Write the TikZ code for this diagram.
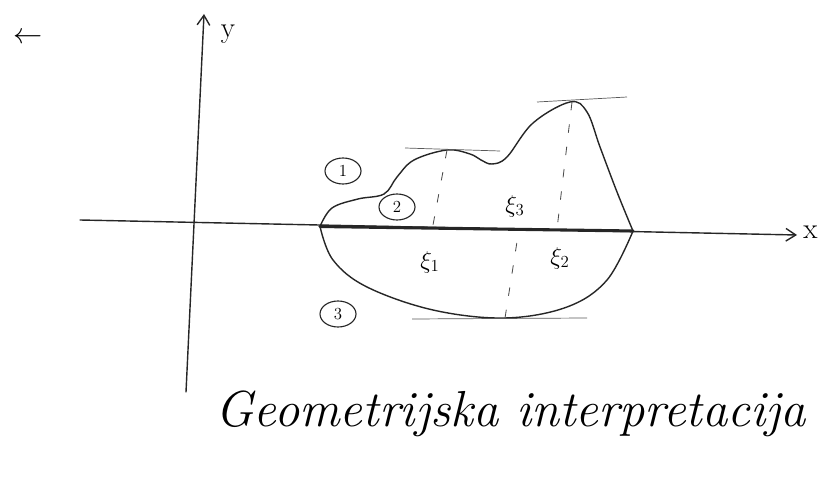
\documentclass[tikz,border=0pt]{standalone}
\usetikzlibrary{arrows.meta, shapes.geometric}

\begin{document}
\begin{tikzpicture}[x=0.25mm, y=-0.25mm, line width=1pt,
    pen/.style={black!85, line cap=round, line join=round},
    tangent/.style={black!65, line width=0.5pt},
    drop/.style={black!70, line width=0.6pt, dash pattern=on 6pt off 10pt},
    circnum/.style={ellipse, draw=black!85, line width=0.8pt, minimum width=9mm, minimum height=6.5mm, inner sep=0pt, font=\large},
    xilabel/.style={font=\LARGE}]
    \useasboundingbox (0,0) rectangle (824,484);
    % axes
    \coordinate (xstart) at (80,220);
    \coordinate (xend) at (797,235);
    \coordinate (ystart) at (186,392);
    \coordinate (yend) at (204,14);
    \draw[pen, -{Straight Barb[length=7pt, width=9pt]}] (xstart) -- (xend);
    \draw[pen, -{Straight Barb[length=7pt, width=9pt]}] (ystart) -- (yend);
    \node[font=\huge, anchor=west] (xlab) at (798,232) {x};
    \node[font=\huge] (ylab) at (228,34) {y};
    \node[font=\huge] (mark) at (28,38) {$\leftarrow$};
    % interval on the x axis
    \coordinate (left) at (320,226.5);
    \coordinate (right) at (633,231);
    \draw[pen, line width=2.2pt] (left) -- (right);
    % upper curve
    \draw[pen] plot[smooth, tension=0.6] coordinates {(left) (332,208) (358,199) (384,194) (397,177) (414,160) (447,150) (470,154) (481,160) (492,164) (507,157) (533,123) (570,102) (587,112) (600,147) (617,192) (right)};
    % lower curve
    \draw[pen] plot[smooth, tension=0.6] coordinates {(left) (333,260) (367,287) (433,310) (505,318) (567,307) (607,280) (right)};
    % tangents at extrema
    \coordinate (top1) at (447,150);
    \coordinate (top2) at (572,102);
    \coordinate (bottom) at (505,318);
    \draw[tangent] (405,148) -- (500,151);
    \draw[tangent] (537,102) -- (627,97);
    \draw[tangent] (412,319) -- (587,318);
    % drops to the axis
    \coordinate (foot1) at (433,225);
    \coordinate (foot2) at (557,229);
    \coordinate (foot3) at (519,229);
    \draw[drop] (top1) -- (foot1);
    \draw[drop] (top2) -- (foot2);
    \draw[drop] (bottom) -- (foot3);
    % labels
    \node[circnum] (one) at (343,171) {1};
    \node[circnum] (two) at (397,207) {2};
    \node[circnum] (three) at (338,314) {3};
    \node[xilabel] (xi1) at (430,262) {$\xi_1$};
    \node[xilabel] (xi2) at (560,258) {$\xi_2$};
    \node[xilabel] (xi3) at (515,206) {$\xi_3$};
    \node[font=\fontsize{36}{40}\selectfont\itshape, anchor=base west] (caption) at (210,426) {Geometrijska interpretacija};
\end{tikzpicture}
\end{document}
